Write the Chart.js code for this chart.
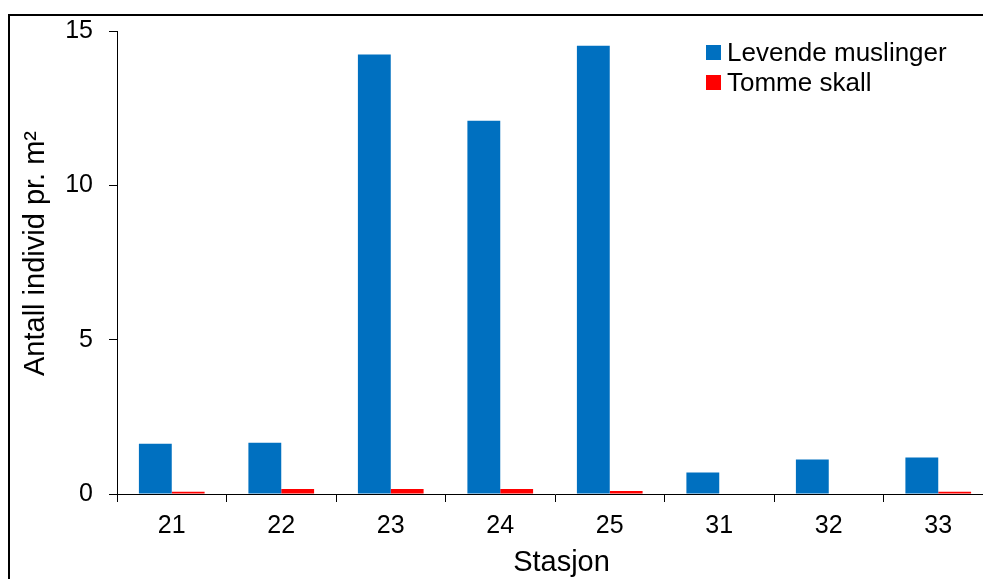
<!DOCTYPE html>
<html>
<head>
<meta charset="utf-8">
<script src="https://cdn.jsdelivr.net/npm/chart.js@4"></script>
<style>
  html, body { margin: 0; padding: 0; background: #fff; overflow: hidden; }
  canvas { display: block; }
</style>
</head>
<body>
<canvas id="c" width="1000" height="579"></canvas>
<script>
// Stations and densities (individuals per m²)
const stations = ['21', '22', '23', '24', '25', '31', '32', '33'];
const levendeMuslinger = [1.63, 1.66, 14.24, 12.09, 14.52, 0.70, 1.12, 1.18];
const tommeSkall = [0.07, 0.16, 0.16, 0.16, 0.10, 0, 0, 0.07];
const yTicks = [0, 5, 10, 15];

const seriesNames = ['Levende muslinger', 'Tomme skall'];
const seriesColors = ['#0070C0', '#FF0000'];
const xTitle = 'Stasjon';
const yTitle = 'Antall individ pr. m²';

const FONT = 'Arial, "Liberation Sans", sans-serif';

// Outer frame, axis titles and the in-plot legend
const decorations = {
  id: 'decorations',
  beforeDraw(chart) {
    const ctx = chart.ctx;
    ctx.save();
    ctx.strokeStyle = '#000';
    ctx.lineWidth = 2;
    ctx.beginPath();
    ctx.moveTo(9, 600);
    ctx.lineTo(9, 15);
    ctx.lineTo(1010, 15);
    ctx.stroke();
    ctx.restore();
  },
  afterDraw(chart) {
    const ctx = chart.ctx;
    ctx.save();
    ctx.fillStyle = '#000';

    // y-axis title
    ctx.font = '29px ' + FONT;
    ctx.textAlign = 'center';
    ctx.textBaseline = 'alphabetic';
    ctx.save();
    ctx.translate(44, 253.5);
    ctx.rotate(-Math.PI / 2);
    ctx.fillText(yTitle, 0, 0);
    ctx.restore();

    // x-axis title
    ctx.fillText(xTitle, 561.5, 571);

    // legend
    ctx.font = '26px ' + FONT;
    ctx.textAlign = 'left';
    chart.data.datasets.forEach((ds, i) => {
      const y = 45 + i * 30;
      ctx.fillStyle = ds.backgroundColor;
      ctx.fillRect(706, y, 15, 15);
      ctx.fillStyle = '#000';
      ctx.fillText(ds.label, 727, y + 15.5);
    });
    ctx.restore();
  }
};

new Chart(document.getElementById('c'), {
  type: 'bar',
  data: {
    labels: stations,
    datasets: [
      { label: seriesNames[0], data: levendeMuslinger, backgroundColor: seriesColors[0] },
      { label: seriesNames[1], data: tommeSkall, backgroundColor: seriesColors[1] }
    ]
  },
  options: {
    responsive: false,
    animation: false,
    events: [],
    layout: { padding: { top: 30, right: 7, bottom: 0, left: 0 } },
    datasets: {
      bar: { categoryPercentage: 0.6, barPercentage: 1.0, borderWidth: 0 }
    },
    plugins: {
      legend: { display: false },
      tooltip: { enabled: false }
    },
    scales: {
      x: {
        offset: true,
        grid: {
          offset: true,
          drawOnChartArea: false,
          drawTicks: true,
          tickLength: 8,
          color: '#000',
          tickWidth: 1
        },
        border: { display: true, color: '#000', width: 1 },
        ticks: {
          color: '#000',
          font: { family: FONT, size: 25 },
          padding: 9,
          maxRotation: 0
        },
        afterFit(scale) { scale.height = 85; }
      },
      y: {
        min: 0,
        max: 15,
        afterBuildTicks(scale) { scale.ticks = yTicks.map(v => ({ value: v })); },
        grid: {
          drawOnChartArea: false,
          drawTicks: true,
          tickLength: 8,
          color: '#000'
        },
        border: { display: true, color: '#000', width: 1 },
        ticks: {
          color: '#000',
          font: { family: FONT, size: 25 },
          padding: 16
        },
        afterFit(scale) { scale.width = 117; }
      }
    }
  },
  plugins: [decorations]
});
</script>
</body>
</html>
